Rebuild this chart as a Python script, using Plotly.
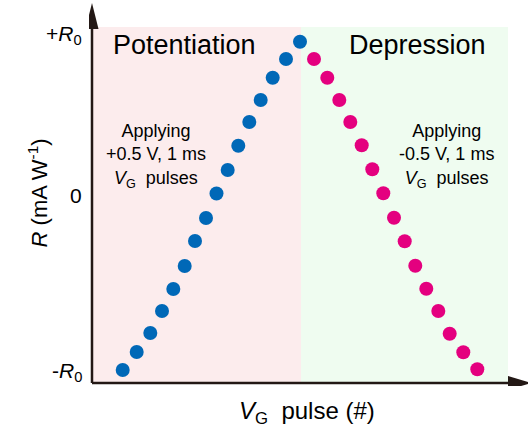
import plotly.graph_objects as go

# Pulse positions (x, arbitrary pulse units) and responsivity (y, arbitrary units)
pot_x = [30.7, 44.7, 58.3, 70.0, 81.3, 92.7, 103.0, 114.0, 124.5, 135.7, 146.3, 157.3, 168.7, 180.7, 194.0, 208.0]
pot_y = [13.0, 31.0, 50.0, 72.0, 94.0, 117.0, 142.0, 165.0, 189.5, 213.0, 237.3, 261.0, 283.0, 305.3, 324.0, 341.3]
dep_x = [222.0, 235.3, 247.3, 258.3, 269.7, 280.3, 291.3, 302.0, 312.7, 323.3, 334.3, 346.3, 357.7, 371.3, 385.3]
dep_y = [324.0, 305.3, 283.0, 261.0, 237.7, 213.7, 189.7, 165.3, 141.7, 117.3, 94.3, 72.0, 49.3, 30.7, 13.7]

r_tick_vals = [348, 188, 11]
r_tick_text = ["+<i>R</i><sub>0</sub>", "0", "-<i>R</i><sub>0</sub>"]

region_bounds = [0, 209, 416]
region_top = 356
region_names = ["Potentiation", "Depression"]
region_colors = ["rgb(252,236,237)", "rgb(239,252,240)"]

FONT = "Liberation Sans, Arial, sans-serif"
AXC = "#231815"

fig = go.Figure()
fig.add_trace(go.Scatter(x=pot_x, y=pot_y, mode="markers",
                         marker=dict(size=14, color="rgb(0,104,183)"), showlegend=False))
fig.add_trace(go.Scatter(x=dep_x, y=dep_y, mode="markers",
                         marker=dict(size=14, color="rgb(228,0,127)"), showlegend=False))

shapes = []
for i in range(2):
    shapes.append(dict(type="rect", x0=region_bounds[i], x1=region_bounds[i + 1], y0=0, y1=region_top,
                       fillcolor=region_colors[i], line=dict(width=0), layer="below"))
# axes lines
shapes.append(dict(type="line", x0=0, x1=0, y0=0, y1=356, line=dict(color=AXC, width=2.5)))
shapes.append(dict(type="line", x0=0, x1=420, y0=0, y1=0, line=dict(color=AXC, width=2.5)))
# arrow heads
shapes.append(dict(type="path", path="M -6.5 354 L 0 380 L 6.5 354 Z", fillcolor=AXC, line=dict(width=0)))
shapes.append(dict(type="path", path="M 416 -7 L 439 0 L 416 7 Z", fillcolor=AXC, line=dict(width=0)))

ann = []
ann.append(dict(x=92.5, y=338, text=region_names[0], showarrow=False, font=dict(size=27, color="black", family=FONT)))
ann.append(dict(x=325, y=338, text=region_names[1], showarrow=False, font=dict(size=27, color="black", family=FONT)))
ann.append(dict(x=64, y=227, text="Applying<br>+0.5 V, 1 ms<br><i>V</i><sub>G</sub>  pulses", showarrow=False,
                font=dict(size=18, color="black", family=FONT)))
ann.append(dict(x=354.5, y=227, text="Applying<br>-0.5 V, 1 ms<br><i>V</i><sub>G</sub>  pulses", showarrow=False,
                font=dict(size=18, color="black", family=FONT)))
for v, t in zip(r_tick_vals, r_tick_text):
    ann.append(dict(x=0, y=v, text=t, showarrow=False, xanchor="right", xshift=-8,
                    font=dict(size=21, color="black", family=FONT)))
ann.append(dict(xref="paper", yref="paper", x=-0.153, y=0.505, text="<i>R</i> (mA W<sup>-1</sup>)", textangle=-90,
                showarrow=False, font=dict(size=22, color="black", family=FONT)))
ann.append(dict(x=215, xref="x", yref="paper", y=-0.0836, yshift=-12, text="<i>V</i><sub>G</sub>  pulse (#)",
                showarrow=False, font=dict(size=24, color="black", family=FONT)))

fig.update_layout(
    width=528, height=433,
    margin=dict(l=89, r=0, t=3, b=47),
    paper_bgcolor="white", plot_bgcolor="white",
    shapes=shapes, annotations=ann,
    xaxis=dict(range=[-3, 436], visible=False, fixedrange=True),
    yaxis=dict(range=[-3, 380], visible=False, fixedrange=True),
)
fig.write_html("out.html")
